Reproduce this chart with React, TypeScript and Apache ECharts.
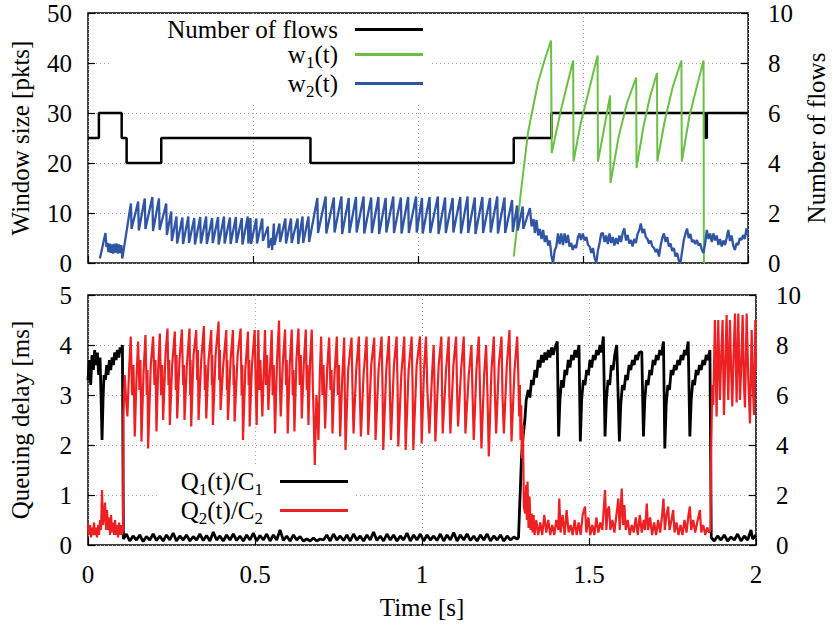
import React, { useEffect, useRef } from "react";
import * as echarts from "echarts";

const FONT = "'Liberation Serif', 'Times New Roman', Times, serif";

// Number of flows (step, value holds from t onward)
const flowsT = [0, 0.033, 0.102, 0.117, 0.222, 0.674, 1.29, 1.404, 1.871, 1.875, 2.0];
const flowsN = [5, 6, 5, 4, 5, 4, 5, 6, 5, 6, 6];

// w1(t) window, flat [t, pkts, ...]
const w1Flat = [
  1.290, 1.3, 1.313, 15, 1.333, 26, 1.363, 36, 1.383, 40.5, 1.403, 44.5, 1.405, 22,
  1.433, 30.6, 1.453, 36, 1.470, 40.5, 1.471, 20.3, 1.493, 28, 1.518, 34.6, 1.544, 41.5,
  1.545, 20.3, 1.563, 26.6, 1.582, 33.5, 1.583, 16, 1.608, 25.3, 1.633, 32, 1.661, 37.1,
  1.662, 19, 1.683, 27.3, 1.703, 33.3, 1.724, 38, 1.725, 20.3, 1.748, 28.6, 1.772, 35.3,
  1.798, 40.5, 1.799, 20.3, 1.822, 29.3, 1.842, 34.6, 1.865, 40.5, 1.866, 0,
];

// w2(t) window, flat [t, pkts, ...]
const w2Flat = [
  0.036, 0.9, 0.053, 6.0, 0.056, 3.2, 0.059, 4.0, 0.062, 2.2, 0.066, 3.9, 0.069, 2.0, 0.073, 3.7,
  0.076, 1.9, 0.080, 3.8, 0.083, 2.1, 0.087, 3.9, 0.090, 1.9, 0.094, 3.7, 0.097, 2.0, 0.101, 3.6,
  0.104, 0.9,
  0.130, 11.9, 0.132, 6.8, 0.152, 12.3, 0.154, 6.5, 0.172, 12.9, 0.174, 6.8, 0.195, 13.2, 0.197, 6.4,
  0.215, 12.9, 0.217, 6.6, 0.237, 11.9, 0.239, 5.6, 0.252, 10.3, 0.254, 4.4,
  0.268, 9.3, 0.270, 3.9, 0.286, 9.1, 0.288, 3.8, 0.304, 9.3, 0.306, 4.0, 0.322, 9.0, 0.324, 3.7,
  0.340, 9.2, 0.342, 3.9, 0.358, 9.3, 0.360, 3.8, 0.376, 9.0, 0.378, 4.0, 0.394, 9.2, 0.396, 3.7,
  0.412, 9.3, 0.414, 3.9, 0.430, 9.1, 0.432, 3.8, 0.448, 9.2, 0.450, 4.0, 0.466, 9.0, 0.468, 3.7,
  0.484, 9.3, 0.486, 3.9, 0.492, 9.0, 0.494, 3.8,
  0.510, 8.9, 0.512, 3.9, 0.528, 8.9, 0.530, 4.4, 0.545, 7.3, 0.547, 3.0, 0.556, 5.0, 0.558, 2.6,
  0.563, 7.9, 0.565, 3.6, 0.580, 7.9, 0.582, 4.2, 0.598, 8.9, 0.600, 3.9, 0.615, 8.9, 0.617, 4.0,
  0.635, 8.9, 0.637, 3.8, 0.650, 9.3, 0.652, 4.0, 0.668, 9.3, 0.670, 4.2,
  0.695, 13.0, 0.697, 6.0, 0.720, 13.3, 0.722, 5.9, 0.745, 13.1, 0.747, 6.1, 0.768, 13.3, 0.770, 5.8,
  0.790, 13.0, 0.792, 6.0, 0.812, 13.2, 0.814, 6.1, 0.835, 13.3, 0.837, 5.9, 0.858, 13.1, 0.860, 6.0,
  0.880, 13.2, 0.882, 5.8, 0.902, 13.0, 0.904, 6.1, 0.925, 13.3, 0.927, 6.0, 0.948, 13.1, 0.950, 5.9,
  0.970, 13.2, 0.972, 6.0, 0.994, 13.3, 0.996, 6.1, 1.012, 13.0, 1.014, 5.9, 1.035, 13.2, 1.037, 6.0,
  1.060, 13.3, 1.062, 5.8, 1.082, 13.1, 1.084, 6.0, 1.105, 13.0, 1.107, 6.1, 1.128, 13.2, 1.130, 5.9,
  1.150, 13.3, 1.152, 6.0, 1.172, 13.1, 1.174, 5.8, 1.195, 13.2, 1.197, 6.0, 1.218, 13.0, 1.220, 6.1,
  1.240, 13.3, 1.242, 5.9, 1.262, 13.1, 1.264, 6.0, 1.285, 12.6, 1.287, 6.2,
  1.300, 11.5, 1.302, 6.5, 1.317, 11.3, 1.319, 6.8, 1.339, 11.0, 1.344, 7.3, 1.350, 8.8, 1.354, 6.0,
  1.359, 8.6, 1.364, 5.5, 1.369, 6.8, 1.374, 4.8, 1.379, 6.6, 1.384, 4.2, 1.389, 5.5, 1.394, 3.5,
  1.399, 4.5, 1.404, 1.5, 1.409, 0.0, 1.414, 2.5, 1.419, 3.3, 1.424, 5.9, 1.429, 3.8, 1.434, 5.9,
  1.439, 3.6, 1.444, 5.9, 1.449, 4.0, 1.454, 5.6, 1.459, 3.3, 1.464, 4.0, 1.469, 2.6, 1.474, 3.6,
  1.479, 3.0, 1.484, 5.0, 1.489, 5.9, 1.494, 4.6, 1.499, 5.9,
  1.505, 4.5, 1.510, 5.2, 1.515, 3.6, 1.520, 3.3, 1.525, 2.0, 1.530, 3.0, 1.535, 1.0, 1.540, 0.0,
  1.545, 2.5, 1.550, 4.0, 1.555, 5.9, 1.560, 6.0, 1.565, 4.2, 1.570, 5.5, 1.575, 3.8, 1.580, 5.9,
  1.585, 4.0, 1.590, 5.2, 1.595, 3.5, 1.600, 5.0, 1.605, 3.8, 1.610, 5.5, 1.615, 4.2, 1.620, 6.0,
  1.625, 6.9, 1.630, 4.5, 1.635, 5.6, 1.640, 3.9, 1.645, 4.6, 1.650, 3.3, 1.655, 4.8, 1.660, 4.0,
  1.665, 5.8, 1.670, 6.5, 1.675, 7.9, 1.680, 6.0, 1.685, 6.8, 1.690, 5.2, 1.695, 4.8, 1.700, 3.9,
  1.705, 4.5, 1.710, 3.3, 1.715, 3.0, 1.720, 2.2, 1.725, 2.8, 1.730, 1.3, 1.735, 3.5, 1.740, 5.0,
  1.745, 5.9, 1.750, 4.2, 1.755, 5.2, 1.760, 3.3, 1.765, 3.9, 1.770, 2.4, 1.775, 3.0, 1.780, 1.3,
  1.785, 2.0, 1.790, 0.5, 1.795, 0.0, 1.800, 2.3, 1.805, 4.5, 1.810, 5.8, 1.815, 6.9, 1.820, 5.0,
  1.825, 5.8, 1.830, 4.2, 1.835, 4.6, 1.840, 3.8, 1.845, 4.6, 1.850, 3.5, 1.855, 3.9, 1.860, 2.6,
  1.865, 2.0, 1.870, 4.0, 1.875, 6.6, 1.880, 4.8, 1.885, 5.9, 1.890, 4.2, 1.895, 5.9, 1.900, 4.5,
  1.905, 5.5, 1.910, 3.6, 1.915, 4.8, 1.920, 3.3, 1.925, 4.5, 1.930, 3.6, 1.935, 5.0, 1.940, 6.6,
  1.945, 4.4, 1.950, 5.5, 1.955, 3.5, 1.960, 2.6, 1.965, 4.0, 1.970, 3.6, 1.975, 5.0, 1.980, 4.6,
  1.985, 5.6, 1.990, 4.8, 1.995, 6.9, 2.0, 5.5,
];

// Q1(t)/C1 queuing delay [ms], flat [t, ms, ...]
const q1Flat = [
  0, 3.3, 0.004, 3.7, 0.008, 3.2, 0.012, 3.8, 0.016, 3.5, 0.020, 3.9, 0.024, 3.6, 0.028, 3.85,
  0.032, 3.4, 0.036, 3.75, 0.039, 3.0, 0.042, 2.1, 0.045, 2.9, 0.048, 3.4, 0.052, 3.3, 0.056, 3.6,
  0.060, 3.4, 0.064, 3.7, 0.068, 3.5, 0.072, 3.75, 0.076, 3.6, 0.080, 3.85, 0.084, 3.7, 0.088, 3.9,
  0.092, 3.75, 0.096, 3.95, 0.100, 3.85, 0.103, 4.0,
  0.106, 0.12, 0.115, 0.22, 0.125, 0.08, 0.135, 0.18, 0.145, 0.1, 0.155, 0.2, 0.165, 0.07, 0.175, 0.17,
  0.185, 0.1, 0.195, 0.22, 0.205, 0.09, 0.215, 0.18, 0.225, 0.08, 0.235, 0.2, 0.245, 0.1, 0.255, 0.24,
  0.265, 0.08, 0.275, 0.18, 0.285, 0.1, 0.295, 0.2, 0.305, 0.08, 0.315, 0.17, 0.325, 0.1, 0.335, 0.22,
  0.345, 0.09, 0.355, 0.19, 0.365, 0.08, 0.375, 0.26, 0.385, 0.1, 0.395, 0.18, 0.405, 0.08, 0.415, 0.2,
  0.425, 0.1, 0.435, 0.22, 0.445, 0.09, 0.455, 0.18, 0.465, 0.08, 0.475, 0.2, 0.485, 0.1, 0.495, 0.24,
  0.505, 0.08, 0.515, 0.19, 0.525, 0.1, 0.535, 0.22, 0.545, 0.08, 0.555, 0.2, 0.565, 0.1, 0.575, 0.3,
  0.585, 0.09, 0.595, 0.18, 0.605, 0.08, 0.615, 0.2, 0.625, 0.1, 0.635, 0.17, 0.645, 0.08, 0.655, 0.12,
  0.665, 0.08, 0.675, 0.14, 0.685, 0.08, 0.695, 0.12, 0.705, 0.1, 0.715, 0.2, 0.725, 0.08, 0.735, 0.22,
  0.745, 0.1, 0.755, 0.18, 0.765, 0.09, 0.775, 0.2, 0.785, 0.08, 0.795, 0.22, 0.805, 0.1, 0.815, 0.18,
  0.825, 0.08, 0.835, 0.2, 0.845, 0.1, 0.855, 0.26, 0.865, 0.09, 0.875, 0.18, 0.885, 0.08, 0.895, 0.22,
  0.905, 0.1, 0.915, 0.2, 0.925, 0.08, 0.935, 0.18, 0.945, 0.1, 0.955, 0.24, 0.965, 0.08, 0.975, 0.2,
  0.985, 0.1, 0.995, 0.22, 1.005, 0.08, 1.015, 0.2, 1.025, 0.1, 1.035, 0.18, 1.045, 0.09, 1.055, 0.22,
  1.065, 0.08, 1.075, 0.2, 1.085, 0.1, 1.095, 0.25, 1.105, 0.08, 1.115, 0.2, 1.125, 0.1, 1.135, 0.22,
  1.145, 0.09, 1.155, 0.18, 1.165, 0.08, 1.175, 0.2, 1.185, 0.1, 1.195, 0.22, 1.205, 0.08, 1.215, 0.18,
  1.225, 0.1, 1.235, 0.2, 1.245, 0.08, 1.255, 0.18, 1.265, 0.1, 1.275, 0.16, 1.285, 0.12,
  1.289, 0.15, 1.298, 1.77, 1.303, 2.2, 1.308, 2.5, 1.312, 2.9, 1.318, 3.1, 1.323, 2.95, 1.328, 3.3,
  1.333, 3.2, 1.338, 3.5, 1.343, 3.35, 1.348, 3.7, 1.353, 3.55, 1.358, 3.8, 1.363, 3.65, 1.368, 3.85,
  1.373, 3.7, 1.378, 3.9, 1.383, 3.75, 1.388, 3.95, 1.393, 3.8, 1.398, 3.95, 1.405, 4.07,
  1.409, 2.17, 1.413, 2.9, 1.418, 3.3, 1.423, 3.15, 1.428, 3.5, 1.433, 3.4, 1.438, 3.7, 1.443, 3.55,
  1.448, 3.8, 1.453, 3.7, 1.458, 3.9, 1.463, 3.75, 1.470, 4.0,
  1.474, 2.07, 1.478, 2.9, 1.483, 3.3, 1.488, 3.2, 1.493, 3.5, 1.498, 3.4, 1.503, 3.7, 1.508, 3.55,
  1.513, 3.8, 1.518, 3.7, 1.523, 3.9, 1.528, 3.8, 1.533, 4.0, 1.538, 3.85, 1.543, 4.17,
  1.548, 2.17, 1.552, 2.9, 1.557, 3.3, 1.562, 3.2, 1.567, 3.6, 1.572, 3.5, 1.577, 3.8, 1.583, 4.0,
  1.591, 2.07, 1.595, 2.8, 1.600, 3.2, 1.605, 3.1, 1.610, 3.4, 1.615, 3.3, 1.620, 3.6, 1.625, 3.5,
  1.630, 3.7, 1.635, 3.6, 1.640, 3.8, 1.645, 3.7, 1.650, 3.85, 1.658, 3.87,
  1.663, 2.17, 1.667, 2.9, 1.672, 3.3, 1.677, 3.2, 1.682, 3.5, 1.687, 3.4, 1.692, 3.7, 1.697, 3.6,
  1.702, 3.8, 1.707, 3.7, 1.712, 3.9, 1.717, 3.8, 1.723, 4.07,
  1.727, 1.93, 1.731, 2.8, 1.736, 3.2, 1.741, 3.1, 1.746, 3.5, 1.751, 3.4, 1.756, 3.6, 1.761, 3.5,
  1.766, 3.7, 1.771, 3.6, 1.776, 3.8, 1.781, 3.7, 1.786, 3.9, 1.791, 3.8, 1.797, 4.07,
  1.802, 2.17, 1.806, 2.9, 1.811, 3.3, 1.816, 3.2, 1.821, 3.5, 1.826, 3.4, 1.831, 3.6, 1.836, 3.5,
  1.841, 3.7, 1.846, 3.6, 1.851, 3.8, 1.856, 3.7, 1.862, 3.9,
  1.866, 0.15, 1.875, 0.08, 1.885, 0.18, 1.895, 0.1, 1.905, 0.2, 1.915, 0.08, 1.925, 0.16, 1.935, 0.1,
  1.945, 0.22, 1.955, 0.08, 1.965, 0.18, 1.975, 0.1, 1.985, 0.3, 1.990, 0.12, 2.0, 0.2,
];

// Q2(t)/C2 queuing delay [ms], flat [t, ms, ...]
const q2Flat = [
  0, 0.45, 0.003, 0.2, 0.006, 0.4, 0.009, 0.15, 0.012, 0.35, 0.015, 0.2, 0.018, 0.45, 0.021, 0.2,
  0.024, 0.35, 0.027, 0.15, 0.030, 0.4, 0.033, 0.2, 0.036, 0.5, 0.039, 0.3, 0.042, 1.1, 0.045, 0.4,
  0.048, 0.6, 0.051, 0.85, 0.054, 0.3, 0.057, 0.7, 0.060, 0.3, 0.063, 0.55, 0.066, 0.2, 0.069, 0.6,
  0.072, 0.25, 0.075, 0.45, 0.078, 0.2, 0.081, 0.5, 0.084, 0.2, 0.087, 0.4, 0.090, 0.15, 0.093, 0.45,
  0.096, 0.2, 0.099, 0.4, 0.102, 0.2, 0.105, 0.3,
  0.106, 2.6, 0.110, 3.4, 0.114, 2.9, 0.118, 2.57, 0.123, 3.5, 0.128, 4.17,
  0.132, 3.0, 0.136, 3.6, 0.140, 2.17, 0.145, 3.3, 0.150, 4.07,
  0.154, 3.1, 0.157, 3.7, 0.160, 2.07, 0.166, 3.4, 0.172, 4.2,
  0.176, 3.0, 0.178, 3.5, 0.180, 1.93, 0.188, 3.6, 0.195, 4.17,
  0.199, 3.2, 0.202, 3.7, 0.205, 2.27, 0.210, 3.5, 0.215, 4.23,
  0.219, 3.0, 0.222, 3.6, 0.225, 2.5, 0.232, 3.8, 0.238, 4.33,
  0.241, 3.2, 0.243, 3.7, 0.245, 2.4, 0.252, 3.6, 0.260, 4.27,
  0.263, 3.1, 0.265, 3.8, 0.267, 2.53, 0.274, 3.7, 0.281, 4.31,
  0.285, 3.2, 0.287, 3.6, 0.289, 2.5, 0.296, 3.6, 0.304, 4.33,
  0.306, 3.0, 0.307, 3.7, 0.309, 2.37, 0.316, 3.8, 0.324, 4.3,
  0.327, 3.3, 0.329, 3.9, 0.331, 2.5, 0.339, 3.7, 0.347, 4.38,
  0.350, 3.1, 0.352, 3.6, 0.354, 2.53, 0.361, 3.7, 0.369, 4.3,
  0.371, 3.2, 0.372, 3.8, 0.374, 2.4, 0.382, 3.8, 0.391, 4.47,
  0.393, 3.3, 0.395, 3.9, 0.397, 2.7, 0.405, 3.6, 0.414, 4.3,
  0.416, 3.1, 0.417, 3.7, 0.419, 2.5, 0.427, 3.7, 0.434, 4.3,
  0.436, 3.2, 0.437, 3.6, 0.439, 2.47, 0.448, 3.8, 0.457, 4.33,
  0.460, 3.0, 0.462, 3.6, 0.464, 2.1, 0.471, 3.5, 0.479, 4.27,
  0.481, 3.2, 0.483, 3.7, 0.484, 2.37, 0.491, 3.6, 0.499, 4.3,
  0.502, 3.2, 0.505, 2.4, 0.510, 4.3, 0.513, 3.1, 0.516, 3.7, 0.522, 2.57, 0.530, 4.3, 0.533, 3.2,
  0.536, 3.8, 0.540, 2.7, 0.545, 3.5, 0.550, 4.3, 0.553, 3.0, 0.556, 3.6, 0.560, 2.23, 0.566, 3.7,
  0.572, 4.49, 0.575, 3.1, 0.577, 2.57, 0.583, 3.6, 0.590, 4.31, 0.593, 3.2, 0.595, 3.7, 0.598, 2.23,
  0.604, 3.6, 0.610, 4.31, 0.613, 3.0, 0.615, 3.5, 0.618, 2.27, 0.624, 3.7, 0.630, 4.33, 0.634, 3.2,
  0.637, 3.8, 0.640, 2.53, 0.646, 3.6, 0.652, 4.31, 0.655, 3.1, 0.657, 3.6, 0.660, 2.4, 0.665, 3.7,
  0.670, 4.31, 0.673, 3.2, 0.676, 2.5, 0.679, 1.6, 0.684, 3.0, 0.687, 2.6, 0.690, 2.1, 0.694, 3.4,
  0.698, 4.17,
  0.702, 3.0, 0.705, 3.6, 0.710, 2.33, 0.716, 3.5, 0.722, 4.15, 0.726, 3.1, 0.729, 3.5, 0.732, 2.23,
  0.738, 3.4, 0.745, 4.17, 0.748, 3.0, 0.751, 3.6, 0.755, 2.17, 0.761, 3.3, 0.767, 4.15, 0.769, 3.0,
  0.771, 1.9, 0.779, 3.5, 0.789, 4.15, 0.792, 3.1, 0.795, 2.23, 0.803, 3.5, 0.811, 4.17, 0.814, 3.0,
  0.817, 2.17, 0.825, 3.4, 0.834, 4.17, 0.837, 3.1, 0.839, 2.2, 0.848, 3.6, 0.857, 4.15, 0.859, 3.0,
  0.861, 2.1, 0.870, 3.5, 0.879, 4.17, 0.882, 3.1, 0.884, 1.9, 0.893, 3.5, 0.901, 4.18, 0.904, 3.0,
  0.907, 2.1, 0.916, 3.6, 0.924, 4.17, 0.927, 3.1, 0.929, 1.97, 0.938, 3.4, 0.947, 4.17, 0.949, 3.0,
  0.951, 1.9, 0.960, 3.5, 0.969, 4.17, 0.972, 3.1, 0.974, 1.9, 0.984, 3.6, 0.994, 4.17, 0.997, 3.0,
  0.999, 2.03,
  1.006, 3.5, 1.012, 4.17, 1.016, 3.1, 1.022, 2.23, 1.030, 3.4, 1.035, 4.0, 1.038, 3.0, 1.040, 2.07,
  1.050, 3.6, 1.058, 4.17, 1.060, 3.1, 1.062, 2.23, 1.072, 3.5, 1.080, 4.17, 1.082, 3.0, 1.085, 2.23,
  1.094, 3.6, 1.102, 4.17, 1.105, 3.1, 1.108, 2.37, 1.117, 3.5, 1.125, 4.17, 1.128, 3.0, 1.130, 2.23,
  1.140, 3.4, 1.148, 4.0, 1.151, 3.1, 1.155, 2.1, 1.163, 3.5, 1.170, 4.17, 1.174, 3.0, 1.178, 1.93,
  1.186, 3.4, 1.192, 4.0, 1.196, 3.0, 1.200, 1.77, 1.208, 3.5, 1.215, 4.17, 1.218, 3.1, 1.222, 2.23,
  1.230, 3.6, 1.238, 4.17, 1.241, 3.0, 1.245, 2.23, 1.254, 3.6, 1.262, 4.3, 1.265, 3.1, 1.268, 2.07,
  1.277, 3.5, 1.285, 4.17,
  1.288, 3.5, 1.291, 2.57, 1.293, 3.2, 1.295, 2.1, 1.297, 2.8, 1.299, 1.73, 1.302, 2.4, 1.305, 0.76,
  1.309, 0.63, 1.312, 1.2, 1.314, 0.5, 1.316, 1.27, 1.319, 0.34, 1.322, 0.97, 1.325, 0.3, 1.328, 0.63,
  1.331, 0.25, 1.334, 0.6, 1.337, 0.2,
  1.342, 0.5, 1.348, 0.2, 1.354, 0.45, 1.360, 0.2, 1.366, 0.6, 1.372, 0.25, 1.378, 0.5, 1.384, 0.2,
  1.390, 0.4, 1.396, 0.2, 1.402, 0.5, 1.408, 0.3, 1.411, 0.93, 1.415, 0.25, 1.421, 0.6, 1.427, 0.2,
  1.433, 0.7, 1.439, 0.25, 1.445, 0.4, 1.451, 0.2, 1.457, 0.5, 1.463, 0.2, 1.469, 0.45, 1.475, 0.2,
  1.481, 0.6, 1.488, 0.77, 1.492, 0.25, 1.498, 0.55, 1.504, 0.2, 1.510, 0.4, 1.516, 0.2, 1.522, 0.55,
  1.528, 0.25, 1.534, 0.45, 1.540, 0.3, 1.548, 1.1, 1.552, 0.3, 1.556, 0.7, 1.560, 0.77, 1.564, 0.3,
  1.570, 0.5, 1.576, 0.25, 1.582, 0.6, 1.588, 0.93, 1.592, 0.3, 1.598, 1.13, 1.602, 0.4, 1.606, 0.8,
  1.610, 0.3, 1.616, 0.5, 1.622, 0.2, 1.628, 0.4, 1.634, 0.25, 1.640, 0.55, 1.646, 0.2, 1.652, 0.6,
  1.658, 0.25, 1.664, 0.5, 1.668, 0.3, 1.673, 0.83, 1.677, 0.3, 1.683, 0.55, 1.689, 0.2, 1.695, 0.45,
  1.701, 0.2, 1.707, 0.5, 1.713, 0.25, 1.719, 0.6, 1.723, 0.93, 1.727, 0.3, 1.732, 0.6, 1.737, 0.77,
  1.741, 0.3, 1.747, 0.5, 1.752, 0.7, 1.756, 0.25, 1.762, 0.45, 1.768, 0.2, 1.774, 0.4, 1.780, 0.2,
  1.786, 0.5, 1.792, 0.25, 1.798, 0.6, 1.802, 0.77, 1.806, 0.3, 1.812, 0.5, 1.818, 0.25, 1.824, 0.45,
  1.832, 0.7, 1.836, 0.25, 1.842, 0.4, 1.848, 0.2, 1.854, 0.35, 1.860, 0.25, 1.864, 0.3,
  1.866, 2.0, 1.869, 3.2, 1.872, 2.8, 1.877, 4.5, 1.882, 2.57, 1.887, 4.5, 1.892, 2.9, 1.896, 3.8,
  1.900, 4.5, 1.904, 2.6, 1.908, 3.6, 1.912, 4.6, 1.917, 2.9, 1.922, 4.5, 1.926, 3.4, 1.929, 2.77,
  1.933, 3.8, 1.937, 4.63, 1.942, 2.85, 1.947, 4.63, 1.952, 2.9, 1.956, 3.6, 1.960, 4.6, 1.964, 3.2,
  1.967, 2.75, 1.972, 4.63, 1.977, 3.3, 1.982, 2.43, 1.987, 4.3, 1.991, 3.1, 1.994, 2.6, 1.998, 4.5,
  2.0, 3.5,
];

const pairs = (flat: number[]) => {
  const out: number[][] = [];
  for (let i = 0; i < flat.length; i += 2) out.push([flat[i], flat[i + 1]]);
  return out;
};

const FS = 25;
const txt = { fontFamily: FONT, fontSize: FS, color: "#000" };
const rich = {
  t: { fontFamily: FONT, fontSize: FS, color: "#000", lineHeight: 28 },
  s: { fontFamily: FONT, fontSize: 17, color: "#000", lineHeight: 17, padding: [8, 0, -8, 0] },
  g: { width: 12, lineHeight: 28 },
};
const legendLabels: Record<string, string> = {
  "Number of flows": "{t|Number of flows}{g|}",
  "w1(t)": "{t|w}{s|1}{t|(t)}{g|}",
  "w2(t)": "{t|w}{s|2}{t|(t)}{g|}",
  "Q1(t)/C1": "{t|Q}{s|1}{t|(t)/C}{s|1}{g|}",
  "Q2(t)/C2": "{t|Q}{s|2}{t|(t)/C}{s|2}{g|}",
};

const splitLine = { show: true, lineStyle: { color: "#a8a8a8", width: 1, type: [1, 3] as any } };
const tick = { show: true, inside: true, length: 7, lineStyle: { color: "#000", width: 1.2 } };

export default function App() {
  const ref = useRef<HTMLDivElement>(null);
  useEffect(() => {
    if (!ref.current) return;
    const chart = echarts.init(ref.current, null, { renderer: "svg" });
    const flowsData = flowsT.map((t, i) => [t, flowsN[i]]);
    const legendBase = {
      orient: "vertical" as const,
      align: "right" as const,
      icon: "rect",
      itemWidth: 68,
      itemHeight: 3,
      itemGap: 0,
      selectedMode: false,
      backgroundColor: "#fff",
      formatter: (n: string) => legendLabels[n] || n,
      textStyle: { ...txt, rich },
    };
    chart.setOption({
      animation: false,
      grid: [
        { left: 88, top: 13, width: 668, height: 250, show: true, borderColor: "#000", borderWidth: 1.5 },
        { left: 88, top: 295, width: 668, height: 250, show: true, borderColor: "#000", borderWidth: 1.5 },
      ],
      legend: [
        { ...legendBase, data: ["Number of flows", "w1(t)", "w2(t)"], right: 406, top: 15, padding: [2, 8, 2, 57] },
        { ...legendBase, data: ["Q1(t)/C1", "Q2(t)/C2"], right: 481, top: 467, padding: [2, 8, 2, 24] },
      ],
      xAxis: [
        {
          type: "value", gridIndex: 0, min: 0, max: 2, interval: 0.5,
          axisLine: { show: false }, axisTick: tick, axisLabel: { show: false }, splitLine,
        },
        {
          type: "value", gridIndex: 1, min: 0, max: 2, interval: 0.5,
          axisLine: { show: false }, axisTick: tick,
          axisLabel: { ...txt, margin: 17 }, splitLine,
          name: "Time [s]", nameLocation: "middle", nameGap: 50, nameTextStyle: txt,
        },
      ],
      yAxis: [
        {
          type: "value", gridIndex: 0, position: "left", min: 0, max: 50, interval: 10,
          axisLine: { show: false }, axisTick: tick, axisLabel: { ...txt, margin: 16 }, splitLine,
          name: "Window size [pkts]", nameLocation: "middle", nameRotate: 90, nameGap: 55, nameTextStyle: txt,
        },
        {
          type: "value", gridIndex: 0, position: "right", min: 0, max: 10, interval: 2,
          axisLine: { show: false }, axisTick: tick, axisLabel: { ...txt, margin: 20 }, splitLine: { show: false },
          name: "Number of flows", nameLocation: "middle", nameRotate: 90, nameGap: 50, nameTextStyle: txt,
        },
        {
          type: "value", gridIndex: 1, position: "left", min: 0, max: 5, interval: 1,
          axisLine: { show: false }, axisTick: tick, axisLabel: { ...txt, margin: 16 }, splitLine,
          name: "Queuing delay [ms]", nameLocation: "middle", nameRotate: 90, nameGap: 55, nameTextStyle: txt,
        },
        {
          type: "value", gridIndex: 1, position: "right", min: 0, max: 10, interval: 2,
          axisLine: { show: false }, axisTick: tick, axisLabel: { ...txt, margin: 20 }, splitLine: { show: false },
        },
      ],
      series: [
        {
          name: "Number of flows", type: "line", xAxisIndex: 0, yAxisIndex: 1, step: "end",
          data: flowsData, symbol: "none", color: "#000", lineStyle: { color: "#000", width: 2.5 }, silent: true,
        },
        {
          name: "w1(t)", type: "line", xAxisIndex: 0, yAxisIndex: 0, data: pairs(w1Flat),
          symbol: "none", color: "#6abf45", lineStyle: { color: "#6abf45", width: 2 }, silent: true,
        },
        {
          name: "w2(t)", type: "line", xAxisIndex: 0, yAxisIndex: 0, data: pairs(w2Flat),
          symbol: "none", color: "#2f55a4", lineStyle: { color: "#2f55a4", width: 2.3 }, silent: true,
        },
        {
          name: "Q1(t)/C1", type: "line", xAxisIndex: 1, yAxisIndex: 2, data: pairs(q1Flat),
          symbol: "none", color: "#000", lineStyle: { color: "#000", width: 2.8 }, silent: true,
        },
        {
          name: "Q2(t)/C2", type: "line", xAxisIndex: 1, yAxisIndex: 2, data: pairs(q2Flat),
          symbol: "none", color: "#ed2024", lineStyle: { color: "#ed2024", width: 2.2 }, silent: true,
        },
      ],
    });
    return () => chart.dispose();
  }, []);
  return (
    <div
      ref={ref}
      style={{ position: "fixed", left: 0, top: 0, width: 837, height: 630, background: "#fff" }}
    />
  );
}
